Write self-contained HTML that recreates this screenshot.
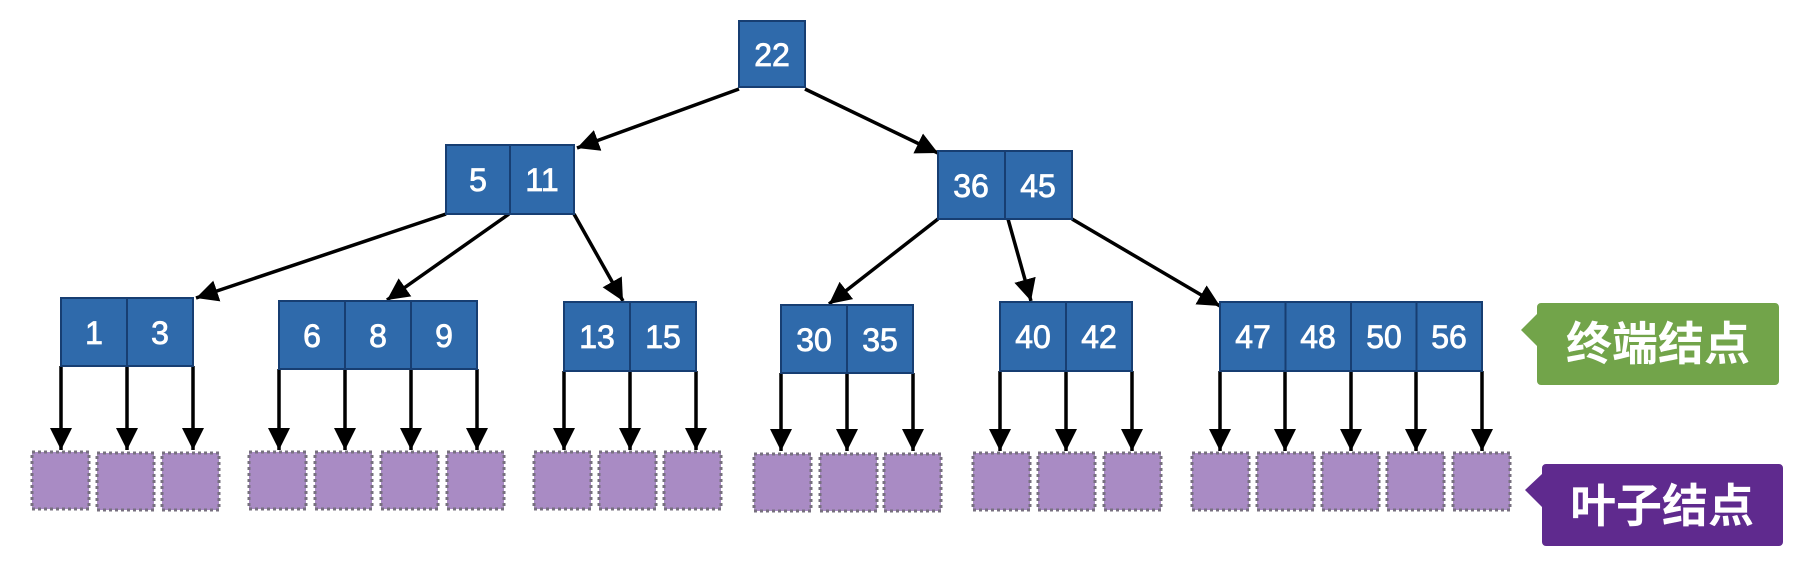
<!DOCTYPE html>
<html><head><meta charset="utf-8"><style>
html,body{margin:0;padding:0;background:#fff;width:1810px;height:564px;overflow:hidden}
svg text{font-family:"Liberation Sans","Noto Sans CJK SC",sans-serif}
</style></head><body>
<svg width="1810" height="564" viewBox="0 0 1810 564" xmlns="http://www.w3.org/2000/svg">
<defs>
<marker id="ar" viewBox="0 0 10 10" refX="10" refY="5" markerWidth="22" markerHeight="22" markerUnits="userSpaceOnUse" orient="auto"><path d="M0,0 L10,5 L0,10 z" fill="#000"/></marker>
</defs>
<g stroke="#000" stroke-width="3.5" fill="none" marker-end="url(#ar)">
<line x1="739" y1="89" x2="577" y2="148"/>
<line x1="805" y1="89" x2="938" y2="153"/>
<line x1="446" y1="214" x2="196" y2="298"/>
<line x1="509" y1="214" x2="387" y2="300"/>
<line x1="574" y1="214" x2="623" y2="301"/>
<line x1="938" y1="219" x2="829" y2="304"/>
<line x1="1008" y1="219" x2="1031" y2="301"/>
<line x1="1072" y1="219" x2="1220" y2="306"/>
<line x1="61" y1="366" x2="61" y2="450"/><line x1="127" y1="366" x2="127" y2="450"/><line x1="193" y1="366" x2="193" y2="450"/>
<line x1="279" y1="369" x2="279" y2="450"/><line x1="345" y1="369" x2="345" y2="450"/><line x1="411" y1="369" x2="411" y2="450"/><line x1="477" y1="369" x2="477" y2="450"/>
<line x1="564" y1="371" x2="564" y2="450"/><line x1="630" y1="371" x2="630" y2="450"/><line x1="696" y1="371" x2="696" y2="450"/>
<line x1="781" y1="373" x2="781" y2="451"/><line x1="847" y1="373" x2="847" y2="451"/><line x1="913" y1="373" x2="913" y2="451"/>
<line x1="1000" y1="371" x2="1000" y2="451"/><line x1="1066" y1="371" x2="1066" y2="451"/><line x1="1132" y1="371" x2="1132" y2="451"/>
<line x1="1220" y1="371" x2="1220" y2="451"/><line x1="1285" y1="371" x2="1285" y2="451"/><line x1="1351" y1="371" x2="1351" y2="451"/><line x1="1416" y1="371" x2="1416" y2="451"/><line x1="1482" y1="371" x2="1482" y2="451"/>
</g>
<g fill="#2f6aab" stroke="#173e72" stroke-width="2">
<rect x="739" y="21" width="66" height="66"/>
<rect x="446" y="145" width="64" height="69"/><rect x="510" y="145" width="64" height="69"/>
<rect x="938" y="151" width="67" height="68"/><rect x="1005" y="151" width="67" height="68"/>
<rect x="61" y="298" width="66" height="68"/><rect x="127" y="298" width="66" height="68"/>
<rect x="279" y="301" width="66" height="68"/><rect x="345" y="301" width="66" height="68"/><rect x="411" y="301" width="66" height="68"/>
<rect x="564" y="302" width="66" height="69"/><rect x="630" y="302" width="66" height="69"/>
<rect x="781" y="305" width="66" height="68"/><rect x="847" y="305" width="66" height="68"/>
<rect x="1000" y="302" width="66" height="69"/><rect x="1066" y="302" width="66" height="69"/>
<rect x="1220" y="302" width="65.5" height="69"/><rect x="1285.5" y="302" width="65.5" height="69"/><rect x="1351" y="302" width="65.5" height="69"/><rect x="1416.5" y="302" width="65.5" height="69"/>
</g>
<g fill="#fff" stroke="#fff" stroke-width="0.8" font-size="32" text-anchor="middle">
<text x="772" y="66">22</text>
<text x="478" y="191">5</text><text x="542" y="191">11</text>
<text x="971" y="197">36</text><text x="1038" y="197">45</text>
<text x="94" y="344">1</text><text x="160" y="344">3</text>
<text x="312" y="347">6</text><text x="378" y="347">8</text><text x="444" y="347">9</text>
<text x="597" y="348">13</text><text x="663" y="348">15</text>
<text x="814" y="351">30</text><text x="880" y="351">35</text>
<text x="1033" y="348">40</text><text x="1099" y="348">42</text>
<text x="1253" y="348">47</text><text x="1318" y="348">48</text><text x="1384" y="348">50</text><text x="1449" y="348">56</text>
</g>
<g fill="#a98bc4" stroke="#77707f" stroke-width="3" stroke-dasharray="3,3">
<rect x="32" y="452" width="57" height="57"/><rect x="97" y="453" width="57" height="57"/><rect x="162" y="453" width="57" height="57"/>
<rect x="249" y="452" width="57" height="57"/><rect x="315" y="452" width="57" height="57"/><rect x="381" y="452" width="57" height="57"/><rect x="447" y="452" width="57" height="57"/>
<rect x="534" y="452" width="57" height="57"/><rect x="599" y="452" width="57" height="57"/><rect x="664" y="452" width="57" height="57"/>
<rect x="754" y="454" width="57" height="57"/><rect x="820" y="454" width="57" height="57"/><rect x="884" y="454" width="57" height="57"/>
<rect x="973" y="453" width="57" height="57"/><rect x="1038" y="453" width="57" height="57"/><rect x="1104" y="453" width="57" height="57"/>
<rect x="1192" y="453" width="57" height="57"/><rect x="1257" y="453" width="57" height="57"/><rect x="1322" y="453" width="57" height="57"/><rect x="1387" y="453" width="57" height="57"/><rect x="1453" y="453" width="57" height="57"/>
</g>
<path d="M1541,303 H1775 a4,4 0 0 1 4,4 V381 a4,4 0 0 1 -4,4 H1541 a4,4 0 0 1 -4,-4 V346 L1521,330 L1537,314 V307 a4,4 0 0 1 4,-4 z" fill="#72a44a"/>
<text x="1658" y="360" fill="#fff" font-size="46" font-weight="bold" text-anchor="middle">终端结点</text>
<path d="M1546,464 H1779 a4,4 0 0 1 4,4 V542 a4,4 0 0 1 -4,4 H1546 a4,4 0 0 1 -4,-4 V507 L1525,490 L1542,474 V468 a4,4 0 0 1 4,-4 z" fill="#5f2a8e"/>
<text x="1662" y="522" fill="#fff" font-size="46" font-weight="bold" text-anchor="middle">叶子结点</text>
</svg>
</body></html>
